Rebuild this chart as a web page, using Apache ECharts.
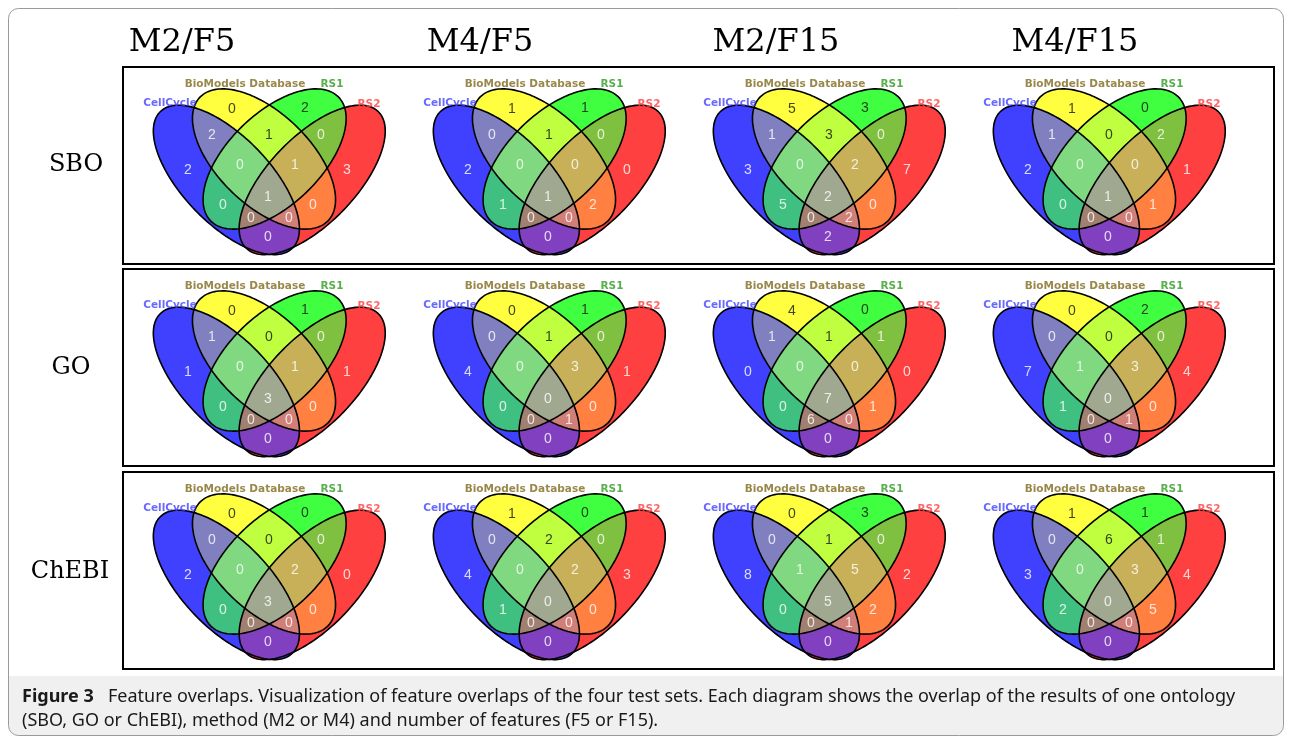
<!DOCTYPE html>
<html>
<head>
<meta charset="utf-8">
<script src="https://cdn.jsdelivr.net/npm/echarts@6/dist/echarts.min.js"></script>
<style>
html, body { margin: 0; padding: 0; background: #fff; }
#chart { width: 1292px; height: 743px; }
</style>
</head>
<body>
<div id="chart"></div>
<script>
// headings
const methods = ['M2/F5', 'M4/F5', 'M2/F15', 'M4/F15'];
const ontologies = ['SBO', 'GO', 'ChEBI'];
const setNames = ['CellCycle', 'BioModels Database', 'RS1', 'RS2'];

// region keys: A = CellCycle, B = BioModels Database, C = RS1, D = RS2
const regions = ['A', 'B', 'C', 'D', 'AB', 'BC', 'CD', 'ABC', 'BCD', 'ABCD', 'AC', 'BD', 'ACD', 'ABD', 'AD'];

// counts, same order as regions
const sboM2F5 = [2, 0, 2, 3, 2, 1, 0, 0, 1, 1, 0, 0, 0, 0, 0];
const sboM4F5 = [2, 1, 1, 0, 0, 1, 0, 0, 0, 1, 1, 2, 0, 0, 0];
const sboM2F15 = [3, 5, 3, 7, 1, 3, 0, 0, 2, 2, 5, 0, 0, 2, 2];
const sboM4F15 = [2, 1, 0, 1, 1, 0, 2, 0, 0, 1, 0, 1, 0, 0, 0];
const goM2F5 = [1, 0, 1, 1, 1, 0, 0, 0, 1, 3, 0, 0, 0, 0, 0];
const goM4F5 = [4, 0, 1, 1, 0, 1, 0, 0, 3, 0, 0, 0, 0, 1, 0];
const goM2F15 = [0, 4, 0, 0, 1, 1, 1, 0, 0, 7, 0, 1, 6, 0, 0];
const goM4F15 = [7, 0, 2, 4, 0, 0, 0, 1, 3, 0, 1, 0, 0, 1, 0];
const chebiM2F5 = [2, 0, 0, 0, 0, 0, 0, 0, 2, 3, 0, 0, 0, 0, 0];
const chebiM4F5 = [4, 1, 0, 3, 0, 2, 0, 0, 2, 0, 1, 0, 0, 0, 0];
const chebiM2F15 = [8, 0, 3, 2, 0, 1, 0, 1, 5, 5, 0, 2, 0, 1, 0];
const chebiM4F15 = [3, 1, 1, 4, 0, 6, 1, 0, 3, 0, 2, 5, 0, 0, 0];

const panelCounts = [
  [sboM2F5, sboM4F5, sboM2F15, sboM4F15],
  [goM2F5, goM4F5, goM2F15, goM4F15],
  [chebiM2F5, chebiM4F5, chebiM2F15, chebiM4F15]
];

// ---- layout ----
const colX = [130, 410, 690, 970];
const rowY = [70, 272, 475];
const PW = 280, PH = 190;

// ellipses in panel pixels (y down), angle of major axis in degrees; C, D mirror B, A about x = 139.3
const ellipses = {
  A: { cx: 96.4, cy: 109.9, a: 95, b: 43.5, ang: 46 },
  B: { cx: 134, cy: 89, a: 89, b: 46, ang: 44 },
  C: { cx: 144.6, cy: 89, a: 89, b: 46, ang: 136 },
  D: { cx: 182.2, cy: 109.9, a: 95, b: 43.5, ang: 134 }
};
const regionColor = {
  A: '#4040ff', B: '#ffff40', C: '#40ff40', D: '#ff4040',
  AB: '#8080c0', AC: '#40c080', AD: '#8040c0', BC: '#c0ff40', BD: '#ff8040', CD: '#80c040',
  ABC: '#80d880', ABD: '#d08078', ACD: '#a08070', BCD: '#c8b058', ABCD: '#a0a890'
};
const labelPos = {
  A: [58, 100], B: [102, 39], C: [175, 38], D: [217, 100],
  AB: [82, 65], BC: [139, 65], CD: [191, 65],
  ABC: [110, 95], BCD: [165, 95], ABCD: [138, 127],
  AC: [93, 135], BD: [183, 135], ACD: [121, 148], ABD: [159, 148], AD: [138, 167]
};
const darkText = { B: 1, C: 1, BC: 1 };
const setLabel = [
  { pos: [40, 33], color: '#4444ff' },
  { pos: [115, 14], color: '#7f6a1c' },
  { pos: [202, 14], color: '#2f9a22' },
  { pos: [239, 34], color: '#ff4040' }
];

// ---- geometry helpers ----
function ellipsePoly(e, n) {
  const pts = [];
  const f = e.ang * Math.PI / 180;
  for (let i = 0; i < n; i++) {
    const t = 2 * Math.PI * i / n;
    const x = e.a * Math.cos(t), y = e.b * Math.sin(t);
    pts.push([e.cx + x * Math.cos(f) - y * Math.sin(f), e.cy + x * Math.sin(f) + y * Math.cos(f)]);
  }
  return pts;
}
function area(p) {
  let s = 0;
  for (let i = 0; i < p.length; i++) {
    const q = p[(i + 1) % p.length];
    s += p[i][0] * q[1] - q[0] * p[i][1];
  }
  return s;
}
function clip(subject, cp) {
  let out = subject;
  const sg = area(cp) > 0 ? 1 : -1;
  for (let i = 0; i < cp.length && out.length; i++) {
    const a = cp[i], b = cp[(i + 1) % cp.length];
    const side = p => sg * ((b[0] - a[0]) * (p[1] - a[1]) - (b[1] - a[1]) * (p[0] - a[0]));
    const inp = out;
    out = [];
    for (let j = 0; j < inp.length; j++) {
      const P = inp[(j + inp.length - 1) % inp.length], Q = inp[j];
      const sp = side(P), sq = side(Q);
      if (sq >= 0) {
        if (sp < 0) { const t = sp / (sp - sq); out.push([P[0] + t * (Q[0] - P[0]), P[1] + t * (Q[1] - P[1])]); }
        out.push(Q);
      } else if (sp >= 0) {
        const t = sp / (sp - sq);
        out.push([P[0] + t * (Q[0] - P[0]), P[1] + t * (Q[1] - P[1])]);
      }
    }
  }
  return out;
}

const polys = {};
Object.keys(ellipses).forEach(k => { polys[k] = ellipsePoly(ellipses[k], 180); });
// paint intersections from smallest to largest subset so each region ends with its own colour
const paintOrder = Object.keys(regionColor).sort((a, b) => a.length - b.length);
const paintPolys = paintOrder.map(key => {
  let p = polys[key[0]];
  for (let i = 1; i < key.length; i++) p = clip(p, polys[key[i]]);
  return p;
});

// ---- build option ----
const grids = [], xAxes = [], yAxes = [], series = [];
let gi = 0;
for (let r = 0; r < 3; r++) {
  for (let c = 0; c < 4; c++) {
    grids.push({ left: colX[c], top: rowY[r], width: PW, height: PH, show: false });
    xAxes.push({ gridIndex: gi, type: 'value', min: 0, max: PW, show: false });
    yAxes.push({ gridIndex: gi, type: 'value', min: 0, max: PH, inverse: true, show: false });
    const counts = panelCounts[r][c];

    series.push({
      type: 'custom', xAxisIndex: gi, yAxisIndex: gi, silent: true,
      data: paintOrder.map((k, i) => [i, 0]),
      renderItem: (params, api) => ({
        type: 'polygon',
        shape: { points: paintPolys[params.dataIndex].map(p => api.coord(p)) },
        style: { fill: regionColor[paintOrder[params.dataIndex]], stroke: regionColor[paintOrder[params.dataIndex]], lineWidth: 0.6 }
      })
    });
    series.push({
      type: 'custom', xAxisIndex: gi, yAxisIndex: gi, silent: true, z: 3,
      data: ['A', 'B', 'C', 'D'].map((k, i) => [i, 0]),
      renderItem: (params, api) => ({
        type: 'polygon',
        shape: { points: polys['ABCD'[params.dataIndex]].map(p => api.coord(p)) },
        style: { fill: 'none', stroke: '#000', lineWidth: 1.6 }
      })
    });
    series.push({
      type: 'scatter', xAxisIndex: gi, yAxisIndex: gi, silent: true, z: 4,
      symbolSize: 1, itemStyle: { color: 'transparent' },
      data: regions.map((k, i) => ({
        value: [labelPos[k][0], labelPos[k][1], counts[i]],
        label: { color: darkText[k] ? '#111' : '#fff' }
      })),
      label: {
        show: true, position: 'inside', fontFamily: 'Liberation Sans', fontSize: 14,
        formatter: p => String(p.value[2])
      }
    });
    series.push({
      type: 'scatter', xAxisIndex: gi, yAxisIndex: gi, silent: true, z: 4,
      symbolSize: 1, itemStyle: { color: 'transparent' },
      data: setNames.map((n, i) => ({
        name: n, value: setLabel[i].pos,
        label: { color: setLabel[i].color }
      })),
      label: {
        show: true, position: 'inside', fontFamily: 'DejaVu Sans', fontWeight: 'bold', fontSize: 10.5,
        formatter: p => p.name
      }
    });
    gi++;
  }
}

const graphics = [
  { type: 'rect', shape: { x: 9, y: 676, width: 1274, height: 59, r: [0, 0, 9, 9] }, style: { fill: '#f0f0f0' }, z: -1 },
  { type: 'rect', shape: { x: 8.5, y: 8.5, width: 1275, height: 727, r: 10 }, style: { fill: 'none', stroke: '#9a9a9a', lineWidth: 1 } }
];
const boxY = [67, 269, 472];
boxY.forEach(y => graphics.push({
  type: 'rect', shape: { x: 123, y: y, width: 1151, height: 197 },
  style: { fill: 'none', stroke: '#000', lineWidth: 2 }
}));
const titleX = [182, 480, 776, 1075];
methods.forEach((m, i) => graphics.push({
  type: 'text', x: titleX[i], y: 43,
  style: { text: m, font: '32px "DejaVu Serif"', fill: '#000', textAlign: 'center', textVerticalAlign: 'middle' }
}));
const rowLabelX = [76, 71, 70];
const rowLabelY = [165, 368, 572];
ontologies.forEach((o, i) => graphics.push({
  type: 'text', x: rowLabelX[i], y: rowLabelY[i],
  style: { text: o, font: '24px "DejaVu Serif"', fill: '#000', textAlign: 'center', textVerticalAlign: 'middle' }
}));
graphics.push({
  type: 'text', x: 22, y: 697,
  style: { text: 'Figure 3', font: 'bold 18px "Noto Sans"', fill: '#1a1a1a', textVerticalAlign: 'middle' }
});
graphics.push({
  type: 'text', x: 108, y: 697,
  style: { text: 'Feature overlaps. Visualization of feature overlaps of the four test sets. Each diagram shows the overlap of the results of one ontology', font: '18px "Noto Sans"', fill: '#1a1a1a', textVerticalAlign: 'middle' }
});
graphics.push({
  type: 'text', x: 22, y: 721,
  style: { text: '(SBO, GO or ChEBI), method (M2 or M4) and number of features (F5 or F15).', font: '18px "Noto Sans"', fill: '#1a1a1a', textVerticalAlign: 'middle' }
});

const chart = echarts.init(document.getElementById('chart'));
chart.setOption({
  animation: false,
  backgroundColor: '#fff',
  grid: grids,
  xAxis: xAxes,
  yAxis: yAxes,
  graphic: { elements: graphics },
  series: series
});
</script>
</body>
</html>
